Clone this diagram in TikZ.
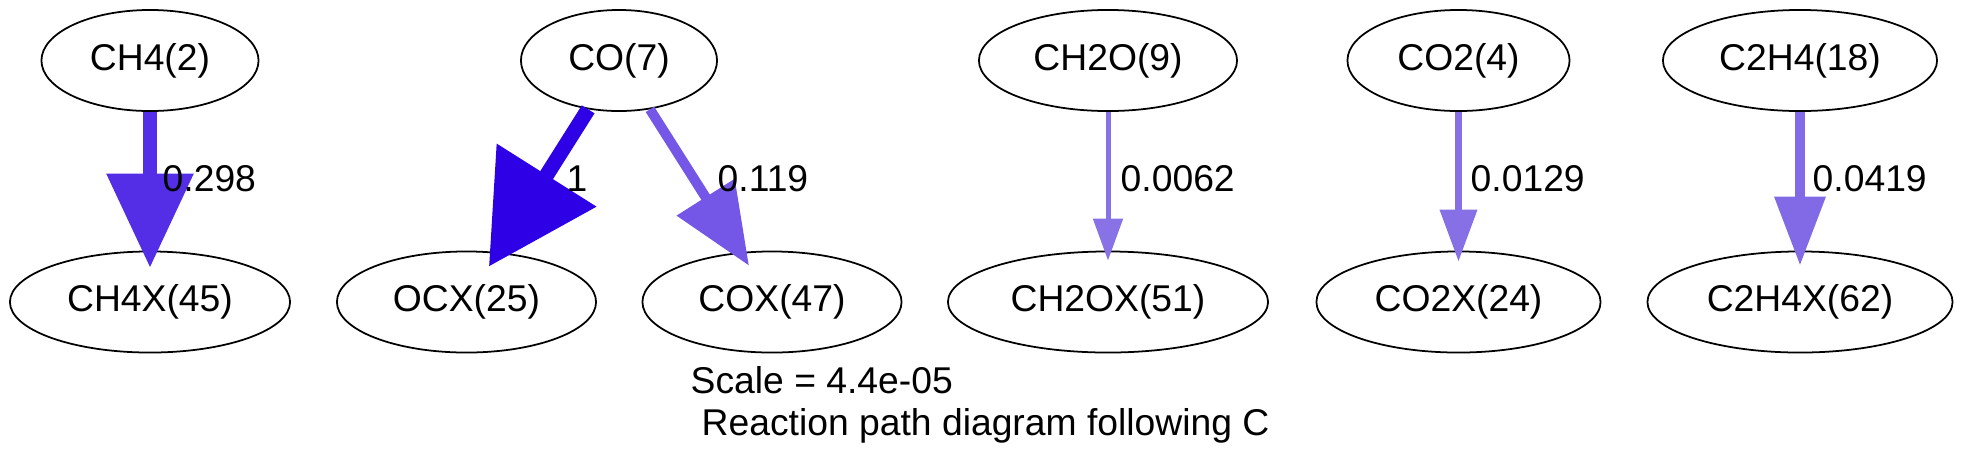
\documentclass[tikz,border=0pt]{standalone}
\usepackage{fontspec}
\setmainfont{Liberation Sans}
\usepackage{tikz}
\usetikzlibrary{shapes.geometric,arrows.meta}

\definecolor{fluxone}{RGB}{46,0,230}
\definecolor{fluxch4}{RGB}{83,46,230}
\definecolor{fluxcox}{RGB}{116,87,230}
\definecolor{fluxc2h4}{RGB}{130,105,230}
\definecolor{fluxco2}{RGB}{135,112,230}
\definecolor{fluxch2o}{RGB}{137,113,230}

\begin{document}
\begin{tikzpicture}[
  x=0.01cm, y=-0.01cm,
  every node/.style={font=\fontsize{10.6}{11.9}\selectfont},
  species/.style={draw, ellipse, line width=0.5pt, inner sep=0pt, minimum height=1.01cm},
  fluxlabel/.style={anchor=west, inner sep=0pt}
  ]
\useasboundingbox (0,0) rectangle (1963,469);

% gas phase
\node[species, minimum width=2.17cm] (ch4) at (150,60.5) {CH4(2)};
\node[species, minimum width=1.96cm] (co) at (619,60.5) {CO(7)};
\node[species, minimum width=2.58cm] (ch2o) at (1108,60.5) {CH2O(9)};
\node[species, minimum width=2.22cm] (co2) at (1458.5,60.5) {CO2(4)};
\node[species, minimum width=2.74cm] (c2h4) at (1800,60.5) {C2H4(18)};

% adsorbed
\node[species, minimum width=2.80cm] (ch4x) at (150,302) {CH4X(45)};
\node[species, minimum width=2.59cm] (ocx) at (466.5,302) {OCX(25)};
\node[species, minimum width=2.59cm] (cox) at (772,302) {COX(47)};
\node[species, minimum width=3.20cm] (ch2ox) at (1108,302) {CH2OX(51)};
\node[species, minimum width=2.84cm] (co2x) at (1458.5,302) {CO2X(24)};
\node[species, minimum width=3.05cm] (c2h4x) at (1800,302) {C2H4X(62)};

\draw[fluxch4, line width=0.13cm, -{Triangle[length=0.94cm,width=0.84cm]}, shorten >=-0.17cm] (ch4) -- (ch4x);
\draw[fluxone, line width=0.15cm, -{Triangle[length=1.08cm,width=1.14cm]}, shorten >=-0.17cm] (co) -- (ocx);
\draw[fluxcox, line width=0.10cm, -{Triangle[length=0.81cm,width=0.66cm]}, shorten >=-0.16cm] (co) -- (cox);
\draw[fluxch2o, line width=0.05cm, -{Triangle[length=0.42cm,width=0.29cm]}, shorten >=-0.10cm] (ch2o) -- (ch2ox);
\draw[fluxco2, line width=0.07cm, -{Triangle[length=0.52cm,width=0.36cm]}, shorten >=-0.11cm] (co2) -- (co2x);
\draw[fluxc2h4, line width=0.10cm, -{Triangle[length=0.69cm,width=0.49cm]}, shorten >=-0.15cm] (c2h4) -- (c2h4x);

\node[fluxlabel] (lch4) at (162,179) {0.298};
\node[fluxlabel] (locx) at (566,179) {1};
\node[fluxlabel] (lcox) at (717,179) {0.119};
\node[fluxlabel] (lch2o) at (1120,179) {0.0062};
\node[fluxlabel] (lco2) at (1470,179) {0.0129};
\node[fluxlabel] (lc2h4) at (1812,179) {0.0419};

\node[anchor=base west, inner sep=0pt] (scale) at (690,393) {Scale = 4.4e-05};
\node[anchor=base west, inner sep=0pt] (caption) at (701,435) {Reaction path diagram following C};

\end{tikzpicture}
\end{document}
